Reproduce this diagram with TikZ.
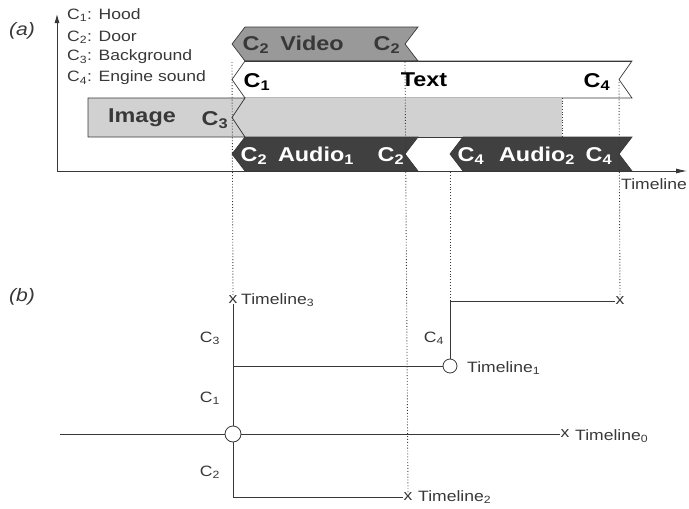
\documentclass[tikz,border=0pt]{standalone}
\usepackage{fontspec}
\setmainfont{Liberation Sans}[FakeStretch=1.17]
\usetikzlibrary{arrows.meta}
\definecolor{vidfill}{gray}{0.6}
\definecolor{imgfill}{gray}{0.82}
\definecolor{audfill}{gray}{0.25}
\definecolor{ink}{gray}{0.22}
\newcommand\chev[5]{%
  \path[#1] ({#2+13},#4) -- ({#3+13},#4) -- (#3,{(#4+#5)/2}) -- ({#3+13},#5) -- ({#2+13},#5) -- (#2,{(#4+#5)/2}) -- cycle;}
\newcommand\sbs[1]{\textsubscript{#1}}
\begin{document}
\begin{tikzpicture}[x=1pt,y=-1pt,
  lab/.style={font=\fontsize{15}{15}\selectfont, text=ink, inner sep=0pt},
  blab/.style={font=\fontsize{20}{20}\selectfont\bfseries, inner sep=0pt},
  tag/.style={font=\fontsize{18}{18}\selectfont\itshape, text=ink, inner sep=0pt},
  tl/.style={draw=ink, line width=0.8pt},
  dots/.style={draw=ink, dotted, line width=0.9pt},
  ring/.style={circle, draw=ink, fill=white, line width=0.8pt, inner sep=0pt}]
\useasboundingbox (0,0) rectangle (689,509);

% ---------- (a) ----------
\node[tag] (ta) at (22,31) {(a)};
\coordinate (o) at (57,171);
\coordinate (ytop) at (57,14);
\coordinate (xend) at (687,171);
\draw[tl, -{Latex[length=9pt,width=5pt]}] (o) -- (ytop);
\draw[tl, -{Latex[length=11pt,width=5pt]}] (o) -- (xend);
\node[lab, anchor=north west] (tlx) at (621,178) {Timeline};

% legend
\node[lab, anchor=west] (l1) at (67,15) {C\sbs{1}: Hood};
\node[lab, anchor=west] (l2) at (67,37) {C\sbs{2}: Door};
\node[lab, anchor=west] (l3) at (67,57) {C\sbs{3}: Background};
\node[lab, anchor=west] (l4) at (67,78) {C\sbs{4}: Engine sound};

% bars
\chev{fill=vidfill, draw=ink, line width=0.7pt}{232}{405}{27}{61}
\chev{fill=white, draw=ink, line width=0.7pt}{232}{619}{61}{98}
\path[fill=imgfill] (245,98) -- (562,98) -- (562,137) -- (245,137) -- (232,117.5) -- cycle;
\draw[ink, line width=0.7pt] (245,137) -- (562,137);
\draw[dots, line width=0.7pt] (562,98) -- (562,137);
\path[fill=imgfill, draw=ink, line width=0.7pt] (88,98) -- (245,98) -- (232,117.5) -- (245,137) -- (88,137) -- cycle;
\chev{fill=audfill, draw=ink, line width=0.7pt}{232}{405}{137}{171}
\chev{fill=audfill, draw=ink, line width=0.7pt}{450}{619}{137}{171}
\draw[ink, line width=0.7pt] (245,61) -- ({619+13},61);

% bar labels
\node[blab, text=ink] (v1) at (256,45) {C\sbs{2}};
\node[blab, text=ink] (v2) at (312,43) {Video};
\node[blab, text=ink] (v3) at (387,45) {C\sbs{2}};
\node[blab] (t1) at (257,82) {C\sbs{1}};
\node[blab] (t2) at (424,80) {Text};
\node[blab] (t3) at (597,82) {C\sbs{4}};
\node[blab, text=ink] (i1) at (142,118) {Image};
\node[blab, text=ink] (i2) at (215,120) {C\sbs{3}};
\node[blab, text=white] (a1) at (254,156) {C\sbs{2}};
\node[blab, text=white] (a2) at (316,156) {Audio\sbs{1}};
\node[blab, text=white] (a3) at (391,156) {C\sbs{2}};
\node[blab, text=white] (b1) at (471,156) {C\sbs{4}};
\node[blab, text=white] (b2) at (537,156) {Audio\sbs{2}};
\node[blab, text=white] (b3) at (599,156) {C\sbs{4}};

% ---------- (b) ----------
\node[tag] (tb) at (22,297) {(b)};
\node[lab] (x3) at (233,300) {x};
\node[lab, anchor=west] (x3l) at (241,300) {Timeline\sbs{3}};
\node[lab] (x2) at (408,497) {x};
\node[lab, anchor=west] (x2l) at (418,497) {Timeline\sbs{2}};
\node[lab] (x0) at (565,434) {x};
\node[lab, anchor=west] (x0l) at (575,436) {Timeline\sbs{0}};
\node[lab] (x1) at (620,301) {x};
\coordinate (l0) at (60,434);
\coordinate (c3) at (233,497);
\coordinate (c4) at (450,301);
\node[ring, minimum size=16pt] (r0) at (233,434) {};
\node[ring, minimum size=14pt] (r1) at (450,366) {};
\node[lab, anchor=west] (r1l) at (467,368) {Timeline\sbs{1}};

\draw[tl] (l0) -- (r0);
\draw[tl] (r0) -- (x0);
\draw[tl] (x3.south) -- (r0);
\draw[tl] (r0) -- (c3) -- (x2);
\draw[tl] (233,366) -- (r1);
\draw[tl] (r1) -- (c4) -- (x1);

\node[lab] (k3) at (210,338) {C\sbs{3}};
\node[lab] (k1) at (210,398) {C\sbs{1}};
\node[lab] (k2) at (210,472) {C\sbs{2}};
\node[lab] (k4) at (434,338) {C\sbs{4}};

% dotted guides
\draw[dots] (232,62) -- (x3.north);
\draw[dots] (405,62) -- (x2.north);
\draw[dots] (450,172) -- (c4);
\draw[dots] (619,82) -- (x1.north);
\end{tikzpicture}
\end{document}
